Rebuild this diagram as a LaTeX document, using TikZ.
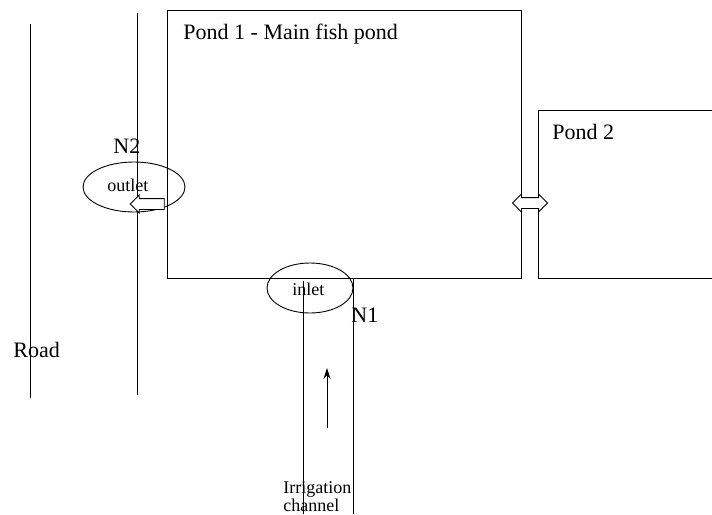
\documentclass[tikz,border=0pt]{standalone}
\usepackage{fontspec}
\setmainfont{Liberation Serif}
\usetikzlibrary{shapes.geometric,shapes.arrows,arrows.meta}

\begin{document}
\begin{tikzpicture}[x=1pt,y=-1pt,line width=0.9pt,
  biglabel/.style={font=\fontsize{22}{26}\selectfont,inner sep=0pt,anchor=base west},
  smalllabel/.style={font=\fontsize{18}{18}\selectfont,inner sep=0pt,anchor=base west},
  gate/.style={draw,ellipse,inner sep=0pt},
  flow/.style={draw,fill=white,inner xsep=0pt,inner ysep=5pt}]
  \useasboundingbox (0,0) rectangle (712,514);
  % road
  \draw (30,24) -- (30,398);
  \draw (137,13) -- (137,395);
  \node[biglabel] (road) at (13,357) {Road};
  % ponds
  \draw (167,10) rectangle (521,278);
  \node[biglabel] (pond1) at (183,39) {Pond 1 - Main fish pond};
  \draw (712,110) -- (538,110) -- (538,278) -- (712,278);
  \node[biglabel] (pond2) at (552,139) {Pond 2};
  % irrigation channel
  \draw (303,281) -- (303,514);
  \draw (353,278) -- (353,514);
  \coordinate (chtail) at (327,428);
  \coordinate (chtip) at (327,368);
  \draw[-{Stealth[length=11pt,width=7pt]}] (chtail) -- (chtip);
  \node[smalllabel] (irr) at (283,493) {Irrigation};
  \node[smalllabel] (chan) at (283,511) {channel};
  % inlet and outlet
  \node[gate,minimum width=86pt,minimum height=50pt] (inring) at (310,288) {};
  \node[smalllabel] (inlbl) at (292,295) {inlet};
  \node[biglabel] (n1) at (351,322) {N1};
  \node[gate,minimum width=102pt,minimum height=50pt] (outring) at (134,187) {};
  \node[smalllabel] (outlbl) at (107,191) {outlet};
  \node[biglabel] (n2) at (113,153) {N2};
  \node[flow,single arrow,single arrow head extend=3.5pt,minimum height=34pt,
    shape border rotate=180] (outflow) at (150,204) {};
  \node[flow,double arrow,double arrow head extend=3.5pt,minimum height=35pt] (link) at (530,203) {};
\end{tikzpicture}
\end{document}
